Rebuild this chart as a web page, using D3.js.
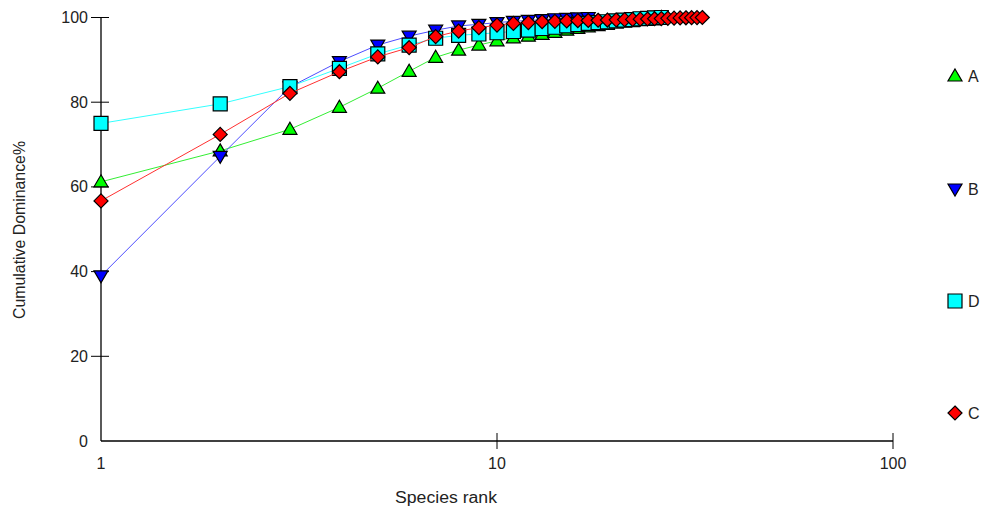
<!DOCTYPE html>
<html><head><meta charset="utf-8">
<script src="https://cdn.jsdelivr.net/npm/d3@7"></script>
<style>body{margin:0;background:#fff}svg{display:block}text{font-family:"Liberation Sans",Arial,sans-serif;fill:#222}</style>
</head><body><svg id="c" width="985" height="509"></svg>
<script>
const seriesNames = ["A","B","D","C"];
const seriesA = [61.2,68.5,73.6,78.8,83.3,87.3,90.6,92.3,93.5,94.5,95.2,95.6,96.0,96.5,97.0,97.4,97.8,98.1,98.4,98.7,99.0,99.3,99.5,99.7,99.85,100];
const seriesB = [39.0,67.2,83.6,89.6,93.5,95.6,97.0,98.0,98.4,98.8,99.1,99.3,99.5,99.7,99.8,99.9,100];
const seriesD = [75.0,79.6,83.7,88.0,91.4,93.5,95.1,95.8,96.1,96.4,96.7,97.0,97.4,97.7,98.0,98.3,98.6,98.8,99.0,99.2,99.4,99.5,99.7,99.8,99.9,100];
const seriesC = [56.7,72.4,82.1,87.2,90.7,92.9,95.5,96.8,97.6,98.2,98.6,98.8,99.0,99.1,99.2,99.25,99.3,99.35,99.4,99.45,99.5,99.55,99.6,99.65,99.7,99.75,99.8,99.85,99.9,99.93,99.96,99.98,100];
const xTicks = [1,10,100];
const yTicks = [0,20,40,60,80,100];
const colors = {A:"#00ff00",B:"#0000ff",D:"#00ffff",C:"#ff0000"};
const lineColors = {A:"#33ee33",B:"#4d4dff",D:"#33ffff",C:"#ff3030"};
const dataMap = {A:seriesA,B:seriesB,D:seriesD,C:seriesC};

const svg = d3.select("#c");
const x = d3.scaleLog().domain([1,100]).range([101,893]);
const y = d3.scaleLinear().domain([0,100]).range([441,17.5]);

svg.append("line").attr("x1",101).attr("x2",893).attr("y1",441).attr("y2",441).attr("stroke","#000").attr("stroke-width",1.3);
svg.append("line").attr("x1",101).attr("x2",101).attr("y1",441).attr("y2",17.5).attr("stroke","#000").attr("stroke-width",1.3);
yTicks.forEach(t=>{
  if(t>0) svg.append("line").attr("x1",91).attr("x2",109).attr("y1",y(t)).attr("y2",y(t)).attr("stroke","#000");
  svg.append("text").attr("x",88).attr("y",y(t)+5.5).attr("text-anchor","end").attr("font-size",16).text(t);
});
xTicks.forEach(t=>{
  if(t>1) svg.append("line").attr("x1",x(t)).attr("x2",x(t)).attr("y1",433).attr("y2",449).attr("stroke","#000");
  svg.append("text").attr("x",x(t)).attr("y",469).attr("text-anchor","middle").attr("font-size",16).text(t);
});
svg.append("text").attr("x",446).attr("y",503).attr("text-anchor","middle").attr("font-size",16).attr("textLength",102).attr("lengthAdjust","spacingAndGlyphs").text("Species rank");
svg.append("text").attr("transform","translate(25,230) rotate(-90)").attr("text-anchor","middle").attr("font-size",16).attr("textLength",178).attr("lengthAdjust","spacingAndGlyphs").text("Cumulative Dominance%");

function marker(g, name, cx, cy){
  const c = colors[name];
  let p;
  if(name==="A") p = `M${cx},${cy-7}L${cx+7},${cy+5}L${cx-7},${cy+5}Z`;
  else if(name==="B") p = `M${cx-7},${cy-5}L${cx+7},${cy-5}L${cx},${cy+7}Z`;
  else if(name==="D") p = `M${cx-7},${cy-7}H${cx+7}V${cy+7}H${cx-7}Z`;
  else p = `M${cx},${cy-7}L${cx+7},${cy}L${cx},${cy+7}L${cx-7},${cy}Z`;
  g.append("path").attr("d",p).attr("fill",c).attr("stroke","#000").attr("stroke-width",1.2);
}

const line = d3.line().x((d,i)=>x(i+1)).y(d=>y(d));
seriesNames.forEach(name=>{
  const g = svg.append("g");
  const vals = dataMap[name];
  g.append("path").datum(vals).attr("d",line).attr("fill","none").attr("stroke",lineColors[name]).attr("stroke-width",1);
  vals.forEach((v,i)=>marker(g,name,x(i+1),y(v)));
});

const legendY = {A:76,B:189,D:301,C:413};
seriesNames.forEach(name=>{
  marker(svg,name,955,legendY[name]);
  svg.append("text").attr("x",968).attr("y",legendY[name]+5.5).attr("font-size",16).text(name);
});
</script></body></html>
